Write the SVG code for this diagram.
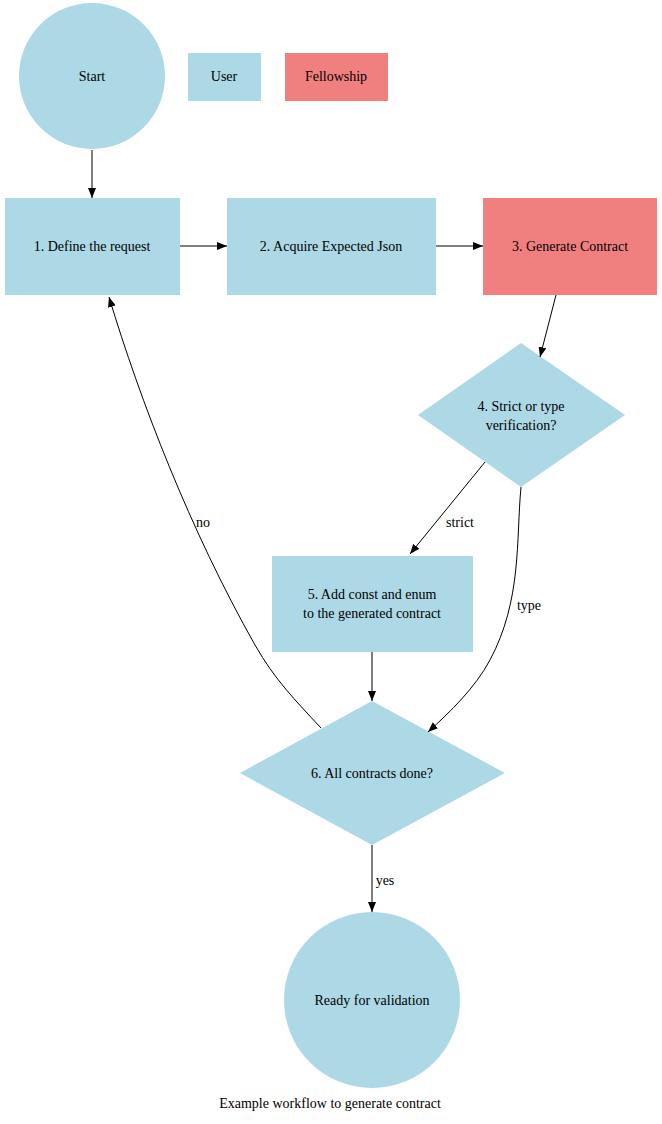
<svg xmlns="http://www.w3.org/2000/svg" width="662" height="1124" viewBox="0 0 662 1124">
<style>
text{font-family:"Liberation Serif","Times New Roman",serif;font-size:14px;text-anchor:middle;fill:#000}
.u{fill:#add8e6}.f{fill:#f08080}
.e{fill:none;stroke:#000;stroke-width:1}
</style>
<defs><marker id="a" markerWidth="10" markerHeight="8" refX="10" refY="4" orient="auto" markerUnits="userSpaceOnUse"><path d="M0,0L10,4L0,8z" fill="#000"/></marker></defs>
<rect width="662" height="1124" fill="#fff"/>
<g id="start"><circle class="u" cx="92" cy="76" r="73"/><text x="92" y="81">Start</text></g>
<g id="user"><rect class="u" x="188" y="53" width="73" height="48"/><text x="224" y="81">User</text></g>
<g id="fellowship"><rect class="f" x="285" y="53" width="103" height="48"/><text x="336" y="81">Fellowship</text></g>
<g id="n1"><rect class="u" x="5" y="198" width="175" height="97"/><text x="92" y="251">1. Define the request</text></g>
<g id="n2"><rect class="u" x="227" y="198" width="209" height="97"/><text x="331" y="251">2. Acquire Expected Json</text></g>
<g id="n3"><rect class="f" x="483" y="198" width="174" height="97"/><text x="570" y="251">3. Generate Contract</text></g>
<g id="n4"><polygon class="u" points="521,343 625,415 521,487 418,415"/><text x="521" y="411">4. Strict or type</text><text x="521" y="430">verification?</text></g>
<g id="n5"><rect class="u" x="272" y="556" width="201" height="96"/><text x="372" y="599">5. Add const and enum</text><text x="372" y="618">to the generated contract</text></g>
<g id="n6"><polygon class="u" points="372,701 505,773 372,845 240,773"/><text x="372" y="778">6. All contracts done?</text></g>
<g id="end"><circle class="u" cx="372" cy="1000" r="88"/><text x="372" y="1005">Ready for validation</text></g>
<g id="edges">
<path class="e" d="M92,150V198" marker-end="url(#a)"/>
<path class="e" d="M180,246H227" marker-end="url(#a)"/>
<path class="e" d="M436,246H483" marker-end="url(#a)"/>
<path class="e" d="M556,295L540,357" marker-end="url(#a)"/>
<path class="e" d="M485,462L410,554" marker-end="url(#a)"/>
<text x="460" y="527">strict</text>
<path class="e" d="M521,487C516,540 522,600 490,660C475,688 450,712 428,732" marker-end="url(#a)"/>
<text x="529" y="610">type</text>
<path class="e" d="M372,652V701" marker-end="url(#a)"/>
<path class="e" d="M321,728C295,700 275,680 255,645C190,530 140,400 109,297" marker-end="url(#a)"/>
<text x="203" y="527">no</text>
<path class="e" d="M372,845V912" marker-end="url(#a)"/>
<text x="385" y="885">yes</text>
</g>
<text x="330" y="1108">Example workflow to generate contract</text>
</svg>
